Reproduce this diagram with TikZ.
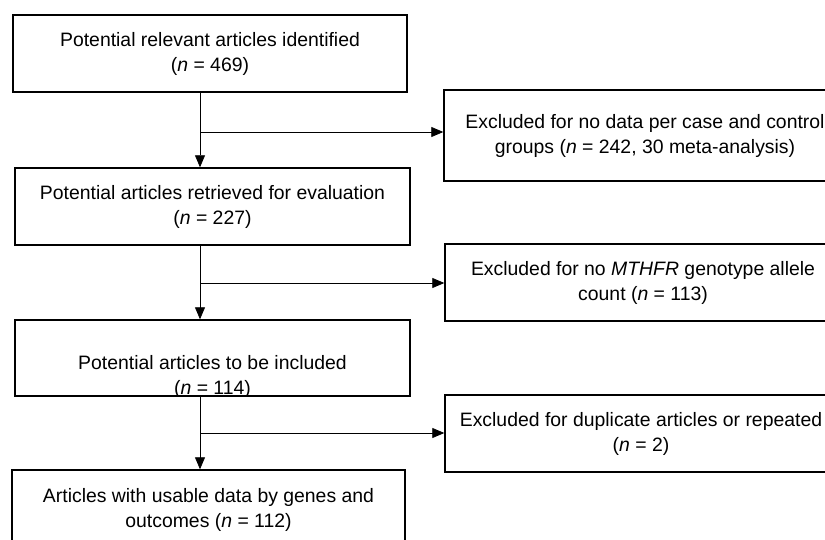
\documentclass[tikz,border=0pt]{standalone}
\usepackage{fontspec}
\setmainfont{Liberation Sans}
\usetikzlibrary{arrows.meta,positioning}

\begin{document}
\begin{tikzpicture}[x=1pt, y=-1pt,
        box/.style={rectangle, draw, line width=1.4pt, align=center, inner sep=0pt, font=\fontsize{19.4}{25}\selectfont},
        boxtext/.style={align=center, inner sep=0pt, font=\fontsize{19.4}{25}\selectfont},
        arrow/.style={-{Triangle[length=12pt,width=10pt]}, line width=0.8pt}
    ]
        \useasboundingbox (0,0) rectangle (825,540);
        \clip (0,0) rectangle (825,540);

        % Main column
        \node[box, minimum width=394pt, minimum height=77pt] (ident) at (210,53.5) {Potential relevant articles identified\\(\textit{n} = 469)};
        \node[box, minimum width=395pt, minimum height=77pt] (retr) at (212.5,206.5) {Potential articles retrieved for evaluation\\(\textit{n} = 227)};
        \node[box, minimum width=395pt, minimum height=76pt] (incl) at (212.5,358) {};
        \begin{scope}
            \clip (incl.north west) rectangle (incl.south east);
            \node[boxtext] (incltext) at (212.5,377) {Potential articles to be included\\(\textit{n} = 114)};
        \end{scope}
        \node[box, minimum width=393pt, minimum height=79pt] (usable) at (208.5,509.5) {Articles with usable data by genes and\\outcomes (\textit{n} = 112)};

        % Exclusions
        \node[box, minimum width=402pt, minimum height=91pt] (exA) at (645,135.5) {Excluded for no data per case and control\\groups (\textit{n} = 242, 30 meta-analysis)};
        \node[box, minimum width=396pt, minimum height=77pt] (exB) at (643,282.5) {Excluded for no \textit{MTHFR} genotype allele\\count (\textit{n} = 113)};
        \node[box, minimum width=392pt, minimum height=77pt] (exC) at (641,433.5) {Excluded for duplicate articles or repeated\\(\textit{n} = 2)};

        % Branch points
        \coordinate (j1) at (200,132);
        \coordinate (j2) at (200,283);
        \coordinate (j3) at (200,433);

        % Arrows
        \draw[arrow] (ident.south -| j1) -- (retr.north -| j1);
        \draw[arrow] (retr.south -| j2) -- (incl.north -| j2);
        \draw[arrow] (incl.south -| j3) -- (usable.north -| j3);
        \draw[arrow] (j1) -- (j1 -| exA.west);
        \draw[arrow] (j2) -- (j2 -| exB.west);
        \draw[arrow] (j3) -- (j3 -| exC.west);
    \end{tikzpicture}
\end{document}
